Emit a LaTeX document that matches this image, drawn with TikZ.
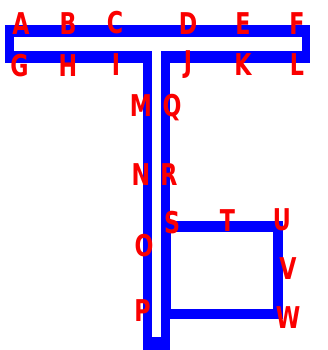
\documentclass[tikz,border=0pt]{standalone}
\usepackage{fontspec}
\newfontfamily\labelfont[FakeStretch=0.74]{DejaVu Sans Bold}
\definecolor{mazeblue}{RGB}{0,0,255}
\definecolor{labelred}{RGB}{250,0,0}

\begin{document}
\begin{tikzpicture}[
  x=1pt, y=-1pt,
  wall/.style={fill=mazeblue, draw=none},
  gap/.style={fill=white, draw=none},
  letter/.style={text=labelred, inner sep=0pt, text height=22pt, text depth=0pt,
    font=\labelfont\fontsize{30}{30}\selectfont}
]
  \useasboundingbox (0,0) rectangle (327,350);

  % blue walls
  \fill[wall] (5,25) rectangle (310,63);
  \fill[wall] (143,51) rectangle (170,350);
  \draw[mazeblue, line width=10.5pt] (165.5,226.5) rectangle (278,314);

  % white channel
  \fill[gap] (14,37) rectangle (302,51);
  \fill[gap] (152,40) rectangle (161,337);

  % top row
  \node[letter] (A) at (21,23.5) {A};
  \node[letter] (B) at (68,23.5) {B};
  \node[letter] (C) at (115,23) {C};
  \node[letter] (D) at (188,23.5) {D};
  \node[letter] (E) at (243,23.5) {E};
  \node[letter] (F) at (297,23.5) {F};

  % second row
  \node[letter] (G) at (19.5,65.5) {G};
  \node[letter] (H) at (68,65.5) {H};
  \node[letter] (I) at (116,65) {I};
  \node[letter] (J) at (188,61.5) {J};
  \node[letter] (K) at (243,65) {K};
  \node[letter] (L) at (297,65) {L};

  % along the stem
  \node[letter] (M) at (141,105.5) {M};
  \node[letter] (Q) at (172,106) {Q};
  \node[letter] (N) at (141,174) {N};
  \node[letter] (R) at (169,174) {R};
  \node[letter] (O) at (144,245) {O};
  \node[letter] (P) at (142.5,310) {P};

  % around the square
  \node[letter] (S) at (172,222) {S};
  \node[letter] (T) at (227.5,220) {T};
  \node[letter] (U) at (282,219) {U};
  \node[letter] (V) at (288,268) {V};
  \node[letter] (W) at (288,317) {W};
\end{tikzpicture}
\end{document}
